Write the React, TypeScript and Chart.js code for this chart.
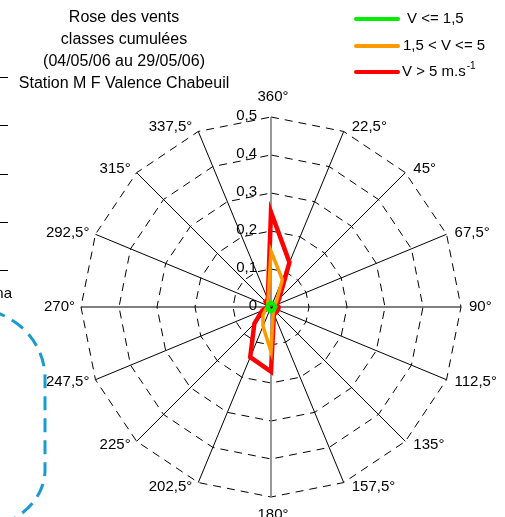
import React, { useEffect, useRef } from "react";
import { Chart, registerables } from "chart.js";

Chart.register(...registerables);

// ---- data ----
const directions = [
  "360°", "22,5°", "45°", "67,5°", "90°", "112,5°", "135°", "157,5°",
  "180°", "202,5°", "225°", "247,5°", "270°", "292,5°", "315°", "337,5°",
];
const tickValues = [0, 0.1, 0.2, 0.3, 0.4, 0.5];
const tickLabels = ["0", "0,1", "0,2", "0,3", "0,4", "0,5"];
const titleLines = [
  "Rose des vents",
  "classes cumulées",
  "(04/05/06 au 29/05/06)",
  "Station M F Valence Chabeuil",
];
const seriesNames = ["V <= 1,5", "1,5 < V <= 5", "V > 5 m.s"];
const seriesColors = ["#00ee00", "#ff9900", "#ff0000"];
const lowWind = [0.012, 0.01, 0.01, 0.01, 0.012, 0.01, 0.01, 0.01, 0.012, 0.01, 0.01, 0.01, 0.008, 0.008, 0.01, 0.01];
const midWind = [0.147, 0.078, 0.02, 0.01, 0.01, 0.01, 0.012, 0.015, 0.118, 0.055, 0.03, 0.015, 0.008, 0.008, 0.012, 0.02];
const highWind = [0.25, 0.127, 0.03, 0.016, 0.02, 0.02, 0.02, 0.02, 0.17, 0.143, 0.062, 0.025, 0.008, 0.008, 0.02, 0.022];

const FONT = "'Liberation Sans', Arial, sans-serif";

const decorPlugin = {
  id: "decor",
  afterDraw(chart: any) {
    const ctx = chart.ctx as CanvasRenderingContext2D;
    const s = chart.scales.r;
    ctx.save();
    ctx.fillStyle = "#000";

    // tick labels
    ctx.font = `15px ${FONT}`;
    ctx.textAlign = "right";
    ctx.textBaseline = "middle";
    tickValues.forEach((v, i) => {
      const d = s.getDistanceFromCenterForValue(v);
      ctx.fillText(tickLabels[i], s.xCenter - 14, s.yCenter - d - 1);
    });

    // point labels
    directions.forEach((lab, i) => {
      const a = (i * 22.5 * Math.PI) / 180;
      const p = s.getPointPosition(i, s.drawingArea);
      let x = p.x;
      let y = p.y - 5 * Math.cos(a);
      if (i === 0) {
        ctx.textAlign = "center";
        x += 2;
        y = p.y - 20;
      } else if (i === 8) {
        ctx.textAlign = "center";
        x += 2;
        y = p.y + 18;
      } else if (i < 8) {
        ctx.textAlign = "left";
        x += 8;
      } else {
        ctx.textAlign = "right";
        x -= 6;
      }
      ctx.fillText(lab, x, y);
    });

    // title
    ctx.font = `16px ${FONT}`;
    ctx.textAlign = "center";
    titleLines.forEach((t, i) => ctx.fillText(t, 124, 18 + i * 22));

    // legend
    const ly = [19, 46, 72];
    const lx = [407, 403, 402];
    seriesNames.forEach((n, i) => {
      ctx.strokeStyle = seriesColors[i];
      ctx.lineWidth = 4;
      ctx.lineCap = "round";
      ctx.beginPath();
      ctx.moveTo(356, ly[i]);
      ctx.lineTo(398, ly[i]);
      ctx.stroke();
      ctx.font = `15px ${FONT}`;
      ctx.textAlign = "left";
      ctx.fillText(n, lx[i], ly[i]);
      if (i === 2) {
        const w = ctx.measureText(n).width;
        ctx.font = `10px ${FONT}`;
        ctx.fillText("-1", lx[i] + w + 1, ly[i] - 6);
      }
    });

    // cropped page fragments on the left
    ctx.strokeStyle = "#000";
    ctx.lineWidth = 1;
    ctx.lineCap = "butt";
    [77, 125, 174, 222, 270].forEach((yy) => {
      ctx.beginPath();
      ctx.moveTo(0, yy + 0.5);
      ctx.lineTo(8, yy + 0.5);
      ctx.stroke();
    });
    ctx.font = `15px ${FONT}`;
    ctx.textAlign = "right";
    ctx.fillText("na", 12, 294);

    ctx.strokeStyle = "#1a9bd0";
    ctx.lineWidth = 3;
    ctx.setLineDash([14, 8]);
    ctx.beginPath();
    ctx.ellipse(-30, 378, 75, 70, 0, -Math.PI / 2, 0);
    ctx.lineTo(45, 470);
    ctx.ellipse(-30, 470, 75, 60, 0, 0, Math.PI / 2);
    ctx.stroke();
    ctx.restore();
  },
};

export default function App() {
  const ref = useRef<HTMLCanvasElement | null>(null);
  useEffect(() => {
    if (!ref.current) return;
    Chart.defaults.font.family = FONT;
    const mk = (label: string, data: number[], color: string, w: number) => ({
      label,
      data,
      borderColor: color,
      backgroundColor: color,
      borderWidth: w,
      fill: false,
      pointRadius: 0,
      pointHoverRadius: 0,
      tension: 0,
      borderJoinStyle: "miter" as const,
    });
    const chart = new Chart(ref.current, {
      type: "radar",
      data: {
        labels: directions,
        datasets: [
          mk(seriesNames[0], lowWind, seriesColors[0], 4),
          mk(seriesNames[1], midWind, seriesColors[1], 3.5),
          mk(seriesNames[2] + "-1", highWind, seriesColors[2], 4.5),
        ],
      },
      options: {
        responsive: false,
        animation: false,
        layout: { padding: { left: 81, right: 43, top: 117, bottom: 20 } },
        plugins: {
          legend: { display: false },
          title: { display: false },
          tooltip: { enabled: false },
        },
        scales: {
          r: {
            min: 0,
            max: 0.5,
            ticks: { display: false, stepSize: 0.1 },
            pointLabels: { display: false },
            grid: { circular: false, color: "#000", lineWidth: 1 },
            border: { dash: [8, 6] } as any,
            angleLines: {
              display: true,
              color: (c: any) => (c.index === 0 || c.index === 8 ? "#808080" : "#000"),
              lineWidth: (c: any) => (c.index === 0 || c.index === 8 ? 1.6 : 1),
            },
          },
        },
      },
      plugins: [decorPlugin],
    });
    return () => chart.destroy();
  }, []);
  return (
    <div style={{ position: "absolute", left: 0, top: 0, width: 505, height: 517 }}>
      <canvas ref={ref} width={505} height={517} style={{ display: "block" }} />
    </div>
  );
}
